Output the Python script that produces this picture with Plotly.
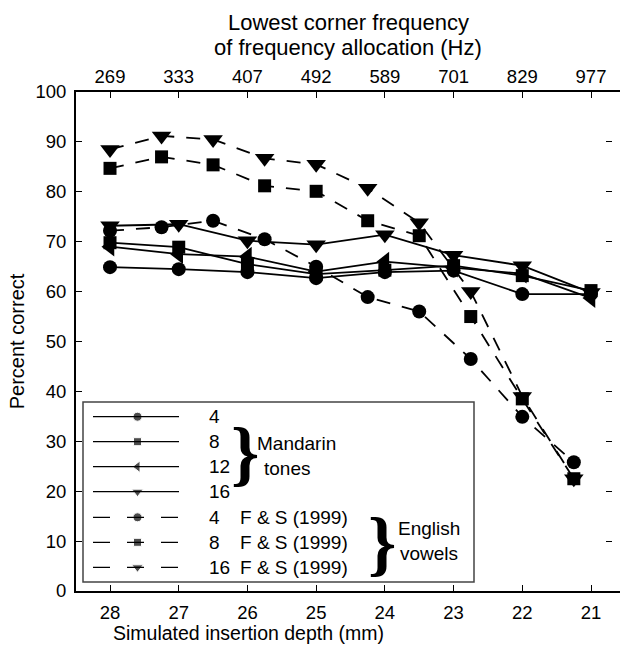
import plotly.graph_objects as go

# ---------------- data ----------------
depth_mandarin = [28, 27, 26, 25, 24, 23, 22, 21]
mandarin_4 = [64.9, 64.5, 63.9, 62.7, 63.9, 64.2, 59.5, 59.5]
mandarin_8 = [69.8, 68.9, 65.5, 63.5, 64.3, 65.2, 63.2, 60.2]
mandarin_12 = [69.0, 67.5, 67.0, 64.0, 66.0, 64.8, 63.6, 58.7]
mandarin_16 = [73.2, 73.5, 70.2, 69.4, 71.4, 67.3, 65.2, 59.8]

depth_fs = [28, 27.25, 26.5, 25.75, 25, 24.25, 23.5, 22.75, 22, 21.25]
fs_4 = [72.2, 72.9, 74.2, 70.5, 65.0, 58.9, 56.0, 46.5, 34.9, 25.8]
fs_8 = [84.7, 87.0, 85.4, 81.2, 80.1, 74.2, 71.2, 55.0, 38.5, 22.5]
fs_16 = [88.5, 91.2, 90.5, 86.7, 85.5, 80.7, 73.8, 60.0, 39.0, 22.5]

depth_ticks = [28, 27, 26, 25, 24, 23, 22, 21]
freq_labels = ["269", "333", "407", "492", "589", "701", "829", "977"]
pct_ticks = [0, 10, 20, 30, 40, 50, 60, 70, 80, 90, 100]

legend_numbers = ["4", "8", "12", "16", "4", "8", "16"]
legend_suffix = ["", "", "", "", "F & S (1999)", "F & S (1999)", "F & S (1999)"]

FONT = "Liberation Sans, Arial, Helvetica, sans-serif"
DASH = "14px,12px"

fig = go.Figure()

series = [
    (depth_fs, fs_4, "circle", 14, DASH),
    (depth_fs, fs_8, "square", 13, DASH),
    (depth_fs, fs_16, "triangle-down", 17, DASH),
    (depth_mandarin, mandarin_4, "circle", 14, "solid"),
    (depth_mandarin, mandarin_8, "square", 13, "solid"),
    (depth_mandarin, mandarin_12, "triangle-left", 17, "solid"),
    (depth_mandarin, mandarin_16, "triangle-down", 17, "solid"),
]
for xs, ys, sym, size, dash in series:
    fig.add_trace(go.Scatter(
        x=xs, y=ys, mode="lines+markers", showlegend=False,
        line=dict(color="black", width=1.8, dash=dash),
        marker=dict(symbol=sym, size=size, color="black"),
        hoverinfo="skip"))

# ---------------- hand-built legend key (pixel-like helper axes) ----------------
row_y = [416.7 + 25 * i for i in range(4)] + [517.3 + 25 * i for i in range(3)]
key_symbols = ["circle", "square", "triangle-left", "triangle-down",
               "circle", "square", "triangle-down"]
key_sizes = [9, 8, 10, 10, 9, 8, 10]
key_dash = ["solid"] * 4 + ["17px,17px"] * 3

shapes = [dict(type="rect", xref="x3", yref="y3", x0=83, x1=474, y0=402, y1=582,
               line=dict(color="#444", width=1.5), fillcolor="white", layer="below")]
for yy, dsh in zip(row_y, key_dash):
    shapes.append(dict(type="line", xref="x3", yref="y3", x0=93, x1=179, y0=yy, y1=yy,
                       line=dict(color="black", width=1.2, dash=dsh)))

fig.add_trace(go.Scatter(
    x=[137.5] * len(row_y), y=row_y, xaxis="x3", yaxis="y3", mode="markers",
    showlegend=False, hoverinfo="skip",
    marker=dict(symbol=key_symbols, size=key_sizes, color="black")))

# dummy trace to create the top / right mirrored axes
fig.add_trace(go.Scatter(x=[None], y=[None], xaxis="x2", yaxis="y2",
                         showlegend=False, hoverinfo="skip"))

XR = [28.495, 20.578]

fig.update_layout(
    width=620, height=647,
    margin=dict(l=76, r=0, t=92, b=56),
    paper_bgcolor="white", plot_bgcolor="white",
    font=dict(family=FONT, size=18, color="black"),
    showlegend=False,
    xaxis=dict(
        range=XR, tickvals=depth_ticks, ticktext=[str(t) for t in depth_ticks],
        ticks="inside", ticklen=6, tickwidth=1.2, tickcolor="black",
        showline=True, linecolor="black", linewidth=1.8,
        showgrid=False, zeroline=False, ticklabelstandoff=4,
        tickfont=dict(size=18.5)),
    xaxis2=dict(
        range=XR, overlaying="x", side="top", anchor="y",
        tickvals=depth_ticks, ticktext=freq_labels,
        ticks="inside", ticklen=6, tickwidth=1.2, tickcolor="black",
        showline=True, linecolor="black", linewidth=1.5,
        showgrid=False, zeroline=False, tickfont=dict(size=18.5)),
    xaxis3=dict(range=[76, 620], overlaying="x", anchor="y3", visible=False,
                fixedrange=True),
    yaxis=dict(
        range=[0, 100], tickvals=pct_ticks,
        ticks="inside", ticklen=6, tickwidth=1.2, tickcolor="black",
        showline=True, linecolor="black", linewidth=1.8,
        showgrid=False, zeroline=False, ticklabelstandoff=4,
        title=dict(text="Percent correct", standoff=6, font=dict(size=20)),
        tickfont=dict(size=18.5)),
    yaxis2=dict(
        range=[0, 100], tickvals=pct_ticks, overlaying="y", anchor="free",
        position=0.985, side="right", showticklabels=False,
        ticks="inside", ticklen=6, tickwidth=1.2, tickcolor="black",
        showline=False, showgrid=False, zeroline=False),
    yaxis3=dict(range=[591, 92], overlaying="y", anchor="x3", visible=False,
                fixedrange=True),
    shapes=shapes,
)

ann = [
    dict(text="Lowest corner frequency", x=348, y=22),
    dict(text="of frequency allocation (Hz)", x=348, y=48),
    dict(text="Simulated insertion depth (mm)", x=248, y=633, size=19.5),
]
annotations = []
for a in ann:
    annotations.append(dict(
        text=a["text"], x=(a["x"] - 76) / 544, y=(591 - a["y"]) / 499,
        xref="paper", yref="paper", xanchor="center", yanchor="middle",
        showarrow=False, font=dict(size=a.get("size", 22))))

# legend texts in helper-axis coordinates
for yy, num, suf in zip(row_y, legend_numbers, legend_suffix):
    annotations.append(dict(text=num, x=207, y=yy, xref="x3", yref="y3",
                            xanchor="left", yanchor="middle", showarrow=False,
                            font=dict(size=19)))
    if suf:
        annotations.append(dict(text=suf, x=238, y=yy, xref="x3", yref="y3",
                                xanchor="left", yanchor="middle", showarrow=False,
                                font=dict(size=19)))

brace_font = dict(size=72, family="Liberation Serif, DejaVu Serif, serif")
annotations += [
    dict(text="<b>}</b>", x=245, y=453, xref="x3", yref="y3", xanchor="center",
         yanchor="middle", showarrow=False, font=brace_font),
    dict(text="Mandarin", x=255, y=443, xref="x3", yref="y3", xanchor="left",
         yanchor="middle", showarrow=False, font=dict(size=19)),
    dict(text="tones", x=262, y=468, xref="x3", yref="y3", xanchor="left",
         yanchor="middle", showarrow=False, font=dict(size=19)),
    dict(text="<b>}</b>", x=382, y=543, xref="x3", yref="y3", xanchor="center",
         yanchor="middle", showarrow=False, font=brace_font),
    dict(text="English", x=429, y=528, xref="x3", yref="y3", xanchor="center",
         yanchor="middle", showarrow=False, font=dict(size=19)),
    dict(text="vowels", x=429, y=553, xref="x3", yref="y3", xanchor="center",
         yanchor="middle", showarrow=False, font=dict(size=19)),
]
fig.update_layout(annotations=annotations)

fig.write_html("out.html")
